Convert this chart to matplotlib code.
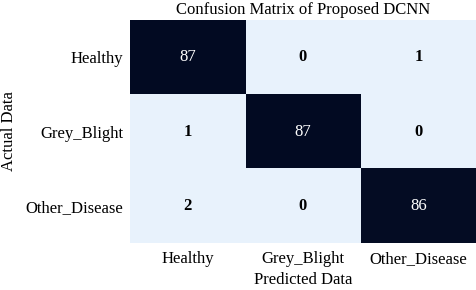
import numpy as np
import matplotlib
matplotlib.use("Agg")
import matplotlib.pyplot as plt
from matplotlib.colors import LinearSegmentedColormap

labels = ["Healthy", "Grey_Blight", "Other_Disease"]
counts = [
    [87, 0, 1],
    [1, 87, 0],
    [2, 0, 86],
]

plt.rcParams["font.family"] = ["Liberation Serif", "DejaVu Serif"]

cm = np.array(counts)
# off-diagonal cells all look the same pale blue, so keep the light end flat
cmap = LinearSegmentedColormap.from_list(
    "cm", [(0.0, "#e8f2fc"), (0.1, "#e8f2fc"), (1.0, "#020a22")])

fig = plt.figure(figsize=(4.76, 2.90), dpi=100)
ax = fig.add_axes([0.273, 0.162, 0.727, 0.769])
ax.imshow(cm, cmap=cmap, aspect="auto", vmin=0, vmax=cm.max())

for i in range(cm.shape[0]):
    for j in range(cm.shape[1]):
        val = cm[i, j]
        dark = val > cm.max() / 2
        ax.text(j, i, str(val), ha="center", va="center", fontsize=12,
                color="white" if dark else "black",
                fontweight="normal" if dark else "bold")

ax.set_xticks(range(len(labels)))
ax.set_xticklabels(labels, fontsize=12)
ax.set_yticks(range(len(labels)))
ax.set_yticklabels(labels, fontsize=12)
ax.tick_params(axis="y", length=0, pad=5)
ax.tick_params(axis="x", length=0, pad=6)
for s in ax.spines.values():
    s.set_visible(False)

ax.set_xlabel("Predicted Data", fontsize=12)
ax.xaxis.set_label_coords(0.5, -0.13)
ax.set_ylabel("Actual Data", fontsize=12)
ax.yaxis.set_label_coords(-0.325, 0.5)
ax.set_title("Confusion Matrix of Proposed DCNN", fontsize=12, pad=4)

fig.savefig("out.png", dpi=100)
